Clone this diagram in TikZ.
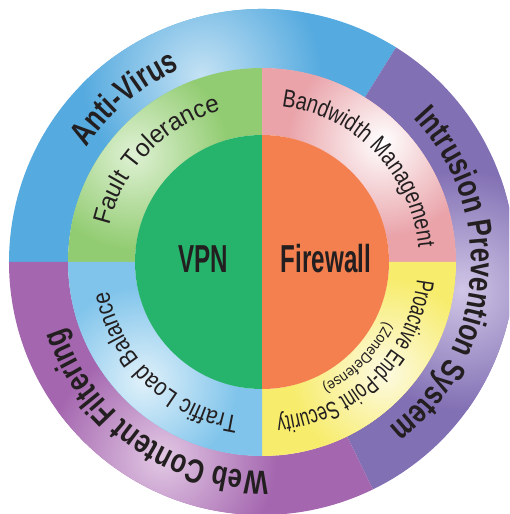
\documentclass[tikz,border=0pt]{standalone}
\usepackage{fontspec}
\usetikzlibrary{decorations.text}
\newfontfamily\outerfam[FakeStretch=0.77]{Liberation Sans}
\newfontfamily\corefam[FakeStretch=0.62]{Liberation Sans}
\newfontfamily\midfamA[FakeStretch=0.97]{Liberation Sans}
\newfontfamily\midfamB[FakeStretch=0.79]{Liberation Sans}
\newfontfamily\midfamC[FakeStretch=0.67]{Liberation Sans}
\newfontfamily\midfamD[FakeStretch=0.84]{Liberation Sans}
\newfontfamily\midfamE[FakeStretch=0.91]{Liberation Sans}
\newcommand{\outf}{\outerfam\bfseries\fontsize{33.5}{33.5}\selectfont}
\newcommand{\coref}{\corefam\bfseries\fontsize{39}{39}\selectfont}
\newcommand{\mfa}{\midfamA\fontsize{25}{25}\selectfont}
\newcommand{\mfb}{\midfamB\fontsize{25}{25}\selectfont}
\newcommand{\mfc}{\midfamC\fontsize{25}{25}\selectfont}
\newcommand{\mfd}{\midfamD\fontsize{25}{25}\selectfont}
\newcommand{\mfe}{\midfamE\fontsize{15}{15}\selectfont}
\definecolor{txt}{HTML}{231F20}
\definecolor{avblue}{HTML}{55AADF}
\definecolor{avlight}{HTML}{C4E2F4}
\definecolor{ipsblue}{HTML}{8270B4}
\definecolor{ipslight}{HTML}{D0C6E6}
\definecolor{webpurple}{HTML}{A466AF}
\definecolor{weblight}{HTML}{E2C8E4}
\definecolor{ftgreen}{HTML}{92CC72}
\definecolor{ftlight}{HTML}{DFF1D4}
\definecolor{bwpink}{HTML}{E9A3A9}
\definecolor{bwlight}{HTML}{FFFFFF}
\definecolor{peyellow}{HTML}{F7EC6B}
\definecolor{pelight}{HTML}{FDFAE2}
\definecolor{tlblue}{HTML}{80C4EB}
\definecolor{tllight}{HTML}{E0F1FA}
\definecolor{vpngreen}{HTML}{26B36B}
\definecolor{fworange}{HTML}{F4804F}
\tikzset{
  arctext/.style={decorate, decoration={text along path, text align=center, text color=txt, text={#1}}},
  corelabel/.style={text=txt, inner sep=0pt, anchor=base}
}
\begin{document}
\begin{tikzpicture}[x=1pt,y=1pt]
\begin{scope}[shift={(262,252)}]
\useasboundingbox (-262,-252) rectangle (247,262);
\clip (-262,-252) rectangle (247,262);
% ---------- outer ring ----------
\begin{scope}
\clip (58:253) arc[start angle=58, end angle=180, radius=253] -- (180:194) arc[start angle=180, end angle=58, radius=194] -- cycle;
\fill[avblue] (0,0) circle (260);
\shade[inner color=avlight, outer color=avblue] (108:196) circle (120);
\end{scope}
\begin{scope}
\clip (-64:253) arc[start angle=-64, end angle=58, radius=253] -- (58:194) arc[start angle=58, end angle=-64, radius=194] -- cycle;
\fill[ipsblue] (0,0) circle (260);
\shade[inner color=ipslight, outer color=ipsblue] (-8:202) circle (120);
\end{scope}
\begin{scope}
\clip (180:253) arc[start angle=180, end angle=296, radius=253] -- (296:194) arc[start angle=296, end angle=180, radius=194] -- cycle;
\fill[webpurple] (0,0) circle (260);
\shade[inner color=weblight, outer color=webpurple] (243:220) circle (115);
\end{scope}
% ---------- middle ring ----------
\begin{scope}
\clip (90:194) arc[start angle=90, end angle=180, radius=194] -- (180:127) arc[start angle=180, end angle=90, radius=127] -- cycle;
\fill[ftgreen] (0,0) circle (200);
\shade[inner color=ftlight, outer color=ftgreen] (140:168) circle (95);
\end{scope}
\begin{scope}
\clip (0:194) arc[start angle=0, end angle=90, radius=194] -- (90:127) arc[start angle=90, end angle=0, radius=127] -- cycle;
\fill[bwpink] (0,0) circle (200);
\shade[inner color=bwlight, outer color=bwpink] (45:170) circle (95);
\end{scope}
\begin{scope}
\clip (-90:194) arc[start angle=-90, end angle=0, radius=194] -- (0:127) arc[start angle=0, end angle=-90, radius=127] -- cycle;
\fill[peyellow] (0,0) circle (200);
\shade[inner color=pelight, outer color=peyellow] (-42:165) circle (95);
\end{scope}
\begin{scope}
\clip (180:194) arc[start angle=180, end angle=270, radius=194] -- (270:127) arc[start angle=270, end angle=180, radius=127] -- cycle;
\fill[tlblue] (0,0) circle (200);
\shade[inner color=tllight, outer color=tlblue] (225:168) circle (95);
\end{scope}
% ---------- core ----------
\fill[vpngreen] (90:127) arc[start angle=90, end angle=270, radius=127] -- cycle;
\fill[fworange] (-90:127) arc[start angle=-90, end angle=90, radius=127] -- cycle;
\node[corelabel] (vpn) at (-59,-11) {\coref VPN};
\node[corelabel] (fw) at (64,-11) {\coref Firewall};
% ---------- outer texts ----------
\path[arctext={|\outf|Anti-Virus}] (210:209) arc[start angle=210, end angle=50, radius=209];
\path[arctext={|\outf|Intrusion Prevention System}] (85:209) arc[start angle=85, end angle=-94, radius=209];
\path[arctext={|\outf|Web Content Filtering}] (325:209) arc[start angle=325, end angle=145, radius=209];
% ---------- middle texts ----------
\path[arctext={|\mfa|Fault Tolerance}] (216:157) arc[start angle=216, end angle=56, radius=157];
\path[arctext={|\mfb|Bandwidth Management}] (124:157) arc[start angle=124, end angle=-36, radius=157];
\path[arctext={|\mfc|Proactive End-Point Security}] (35:156) arc[start angle=35, end angle=-126, radius=156];
\path[arctext={|\mfe|(ZoneDefense)}] (35:137) arc[start angle=35, end angle=-125, radius=137];
\path[arctext={|\mfd|Traffic Load Balance}] (306:156) arc[start angle=306, end angle=146, radius=156];
\end{scope}
\end{tikzpicture}
\end{document}
